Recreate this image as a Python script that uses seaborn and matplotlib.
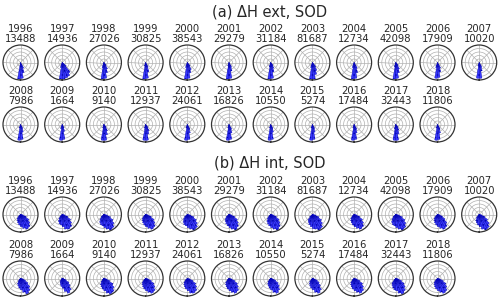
import numpy as np
import matplotlib
matplotlib.use("Agg")
import matplotlib.pyplot as plt
import seaborn as sns

years = list(range(1996, 2019))
counts = [13488, 14936, 27026, 30825, 38543, 29279, 31184, 81687, 12734, 42098,
          17909, 10020, 7986, 1664, 9140, 12937, 24061, 16826, 10550, 5274,
          17484, 32443, 11806]

# angular bins (deg, measured from south, positive toward east)
bin_deg = [-45, -35, -25, -15, -5, 5, 15, 25, 35, 45, 55, 65, 75]

# radial extent per bin, panel (a) ΔH ext
ext_r = [
    [0, 0, 0, 0, 0.95, 0.9, 0.6, 0.35, 0, 0, 0, 0, 0],        # 1996
    [0, 0, 0, 0.3, 0.95, 0.95, 0.9, 0.85, 0.7, 0.3, 0, 0, 0],  # 1997
    [0, 0, 0, 0.3, 0.95, 0.9, 0.6, 0.4, 0.2, 0, 0, 0, 0],     # 1998
    [0, 0, 0, 0.2, 0.95, 0.9, 0.55, 0.3, 0, 0, 0, 0, 0],      # 1999
    [0, 0, 0, 0.3, 0.95, 0.9, 0.6, 0.45, 0.25, 0, 0, 0, 0],   # 2000
    [0, 0, 0, 0.2, 0.95, 0.9, 0.5, 0.3, 0, 0, 0, 0, 0],       # 2001
    [0, 0, 0, 0.25, 0.95, 0.9, 0.55, 0.35, 0.2, 0, 0, 0, 0],  # 2002
    [0, 0, 0, 0.3, 0.95, 0.95, 0.7, 0.5, 0.3, 0, 0, 0, 0],    # 2003
    [0, 0, 0, 0.3, 0.95, 0.9, 0.6, 0.35, 0, 0, 0, 0, 0],      # 2004
    [0, 0, 0, 0.25, 0.95, 0.9, 0.6, 0.4, 0.2, 0, 0, 0, 0],    # 2005
    [0, 0, 0, 0.3, 0.9, 0.85, 0.55, 0.35, 0, 0, 0, 0, 0],     # 2006
    [0, 0, 0, 0.2, 0.9, 0.9, 0.5, 0.3, 0, 0, 0, 0, 0],        # 2007
    [0, 0, 0, 0.2, 0.9, 0.85, 0.45, 0.25, 0, 0, 0, 0, 0],     # 2008
    [0, 0, 0, 0.25, 0.9, 0.85, 0.4, 0.2, 0, 0, 0, 0, 0],      # 2009
    [0, 0, 0, 0.2, 0.9, 0.9, 0.6, 0.4, 0.2, 0, 0, 0, 0],      # 2010
    [0, 0, 0, 0.2, 0.9, 0.9, 0.55, 0.4, 0.2, 0, 0, 0, 0],     # 2011
    [0, 0, 0, 0.2, 0.9, 0.85, 0.5, 0.3, 0, 0, 0, 0, 0],       # 2012
    [0, 0, 0, 0.2, 0.9, 0.85, 0.5, 0.3, 0, 0, 0, 0, 0],       # 2013
    [0, 0, 0, 0.2, 0.9, 0.85, 0.45, 0.25, 0, 0, 0, 0, 0],     # 2014
    [0, 0, 0, 0.2, 0.9, 0.85, 0.45, 0.25, 0, 0, 0, 0, 0],     # 2015
    [0, 0, 0, 0.2, 0.9, 0.85, 0.5, 0.3, 0, 0, 0, 0, 0],       # 2016
    [0, 0, 0, 0.25, 0.9, 0.9, 0.55, 0.35, 0.2, 0, 0, 0, 0],   # 2017
    [0, 0, 0, 0.2, 0.9, 0.85, 0.5, 0.3, 0, 0, 0, 0, 0],       # 2018
]

# radial extent per bin, panel (b) ΔH int
int_r = [
    [0.15, 0.3, 0.4, 0.5, 0.6, 0.7, 0.8, 0.9, 0.85, 0.7, 0.55, 0.35, 0.15],   # 1996
    [0.15, 0.3, 0.45, 0.55, 0.6, 0.7, 0.85, 0.9, 0.85, 0.7, 0.55, 0.35, 0.15],  # 1997
    [0.2, 0.35, 0.5, 0.6, 0.65, 0.75, 0.85, 0.95, 0.9, 0.75, 0.6, 0.4, 0.2],  # 1998
    [0.15, 0.3, 0.4, 0.5, 0.6, 0.7, 0.8, 0.9, 0.85, 0.7, 0.55, 0.35, 0.15],   # 1999
    [0.2, 0.35, 0.5, 0.6, 0.65, 0.75, 0.85, 0.95, 0.9, 0.75, 0.6, 0.4, 0.2],  # 2000
    [0.2, 0.35, 0.45, 0.55, 0.65, 0.75, 0.85, 0.95, 0.85, 0.7, 0.55, 0.35, 0.15],  # 2001
    [0.15, 0.3, 0.45, 0.55, 0.65, 0.75, 0.85, 0.95, 0.85, 0.7, 0.55, 0.35, 0.15],  # 2002
    [0.2, 0.4, 0.5, 0.6, 0.7, 0.8, 0.85, 0.95, 0.9, 0.75, 0.6, 0.4, 0.2],     # 2003
    [0.15, 0.3, 0.4, 0.5, 0.6, 0.7, 0.8, 0.9, 0.85, 0.7, 0.55, 0.35, 0.15],   # 2004
    [0.2, 0.35, 0.5, 0.6, 0.65, 0.75, 0.85, 0.95, 0.9, 0.75, 0.6, 0.4, 0.2],  # 2005
    [0.15, 0.3, 0.4, 0.5, 0.6, 0.7, 0.8, 0.9, 0.85, 0.7, 0.5, 0.3, 0.15],     # 2006
    [0.1, 0.25, 0.4, 0.5, 0.6, 0.7, 0.85, 0.95, 0.9, 0.75, 0.55, 0.35, 0.15],  # 2007
    [0.1, 0.2, 0.35, 0.45, 0.55, 0.65, 0.8, 0.95, 0.85, 0.7, 0.5, 0.3, 0.15],  # 2008
    [0.05, 0.15, 0.25, 0.35, 0.45, 0.55, 0.75, 0.9, 0.8, 0.6, 0.45, 0.25, 0.1],  # 2009
    [0.1, 0.25, 0.4, 0.5, 0.6, 0.7, 0.85, 0.95, 0.9, 0.75, 0.6, 0.35, 0.15],  # 2010
    [0.15, 0.3, 0.4, 0.5, 0.6, 0.7, 0.8, 0.9, 0.85, 0.7, 0.55, 0.35, 0.15],   # 2011
    [0.15, 0.3, 0.4, 0.5, 0.6, 0.7, 0.85, 0.9, 0.85, 0.7, 0.55, 0.35, 0.15],  # 2012
    [0.15, 0.3, 0.4, 0.5, 0.6, 0.7, 0.8, 0.9, 0.85, 0.7, 0.55, 0.35, 0.15],   # 2013
    [0.1, 0.25, 0.35, 0.45, 0.55, 0.65, 0.8, 0.9, 0.8, 0.65, 0.5, 0.3, 0.1],  # 2014
    [0.1, 0.25, 0.35, 0.45, 0.55, 0.65, 0.8, 0.9, 0.8, 0.6, 0.45, 0.3, 0.1],  # 2015
    [0.15, 0.3, 0.4, 0.5, 0.6, 0.7, 0.8, 0.9, 0.85, 0.7, 0.55, 0.35, 0.15],   # 2016
    [0.15, 0.35, 0.45, 0.55, 0.65, 0.7, 0.85, 0.95, 0.85, 0.7, 0.55, 0.35, 0.15],  # 2017
    [0.15, 0.3, 0.4, 0.5, 0.6, 0.7, 0.8, 0.9, 0.85, 0.7, 0.55, 0.35, 0.15],   # 2018
]

panel_titles = ["(a) ΔH ext, SOD", "(b) ΔH int, SOD"]

sns.set_theme(style="white")
plt.rcParams['font.family'] = ['DejaVu Sans']
plt.rcParams['hatch.linewidth'] = 0.6
plt.rcParams['hatch.color'] = '#0000a0'

W, H = 500, 299
fig = plt.figure(figsize=(5, 2.99), dpi=100)

d = 35  # circle diameter in pixels
col_x = [20.5 + 41.7 * i for i in range(12)]
# circle tops (pixels) for each panel's two rows, and panel title y
row_tops = [[45, 107], [197, 261]]
title_y = [12, 163]

bar_color = sns.color_palette(["#3a3aff"])[0]
theta = np.deg2rad(bin_deg)
width = np.deg2rad(10)

for p, radii in enumerate([ext_r, int_r]):
    fig.text(270 / W, 1 - title_y[p] / H, panel_titles[p], ha="center",
             va="center", fontsize=10.5)
    for k, yr in enumerate(years):
        row, col = divmod(k, 12)
        top = row_tops[p][row]
        x0 = col_x[col] - d / 2
        ax = fig.add_axes([x0 / W, 1 - (top + d) / H, d / W, d / H],
                          projection="polar")
        ax.set_theta_zero_location("S")
        ax.bar(theta, radii[k], width=width, bottom=0, color=bar_color,
               edgecolor="#0000b0", linewidth=0.3, hatch="....", align="center")
        ax.set_ylim(0, 1)
        ax.set_yticks([0.2, 0.4, 0.6, 0.8])
        ax.set_xticks(np.deg2rad(np.arange(0, 360, 45)))
        ax.set_xticklabels([])
        ax.set_yticklabels([])
        ax.grid(True, color="#b0b0b0", linewidth=0.5)
        ax.spines["polar"].set_color("#333333")
        ax.spines["polar"].set_linewidth(0.9)
        ax.set_axisbelow(True)
        ax.set_title(f"{yr}\n{counts[k]}", fontsize=7.2, pad=2.5,
                     linespacing=1.0)

fig.savefig("out.png", dpi=100)
